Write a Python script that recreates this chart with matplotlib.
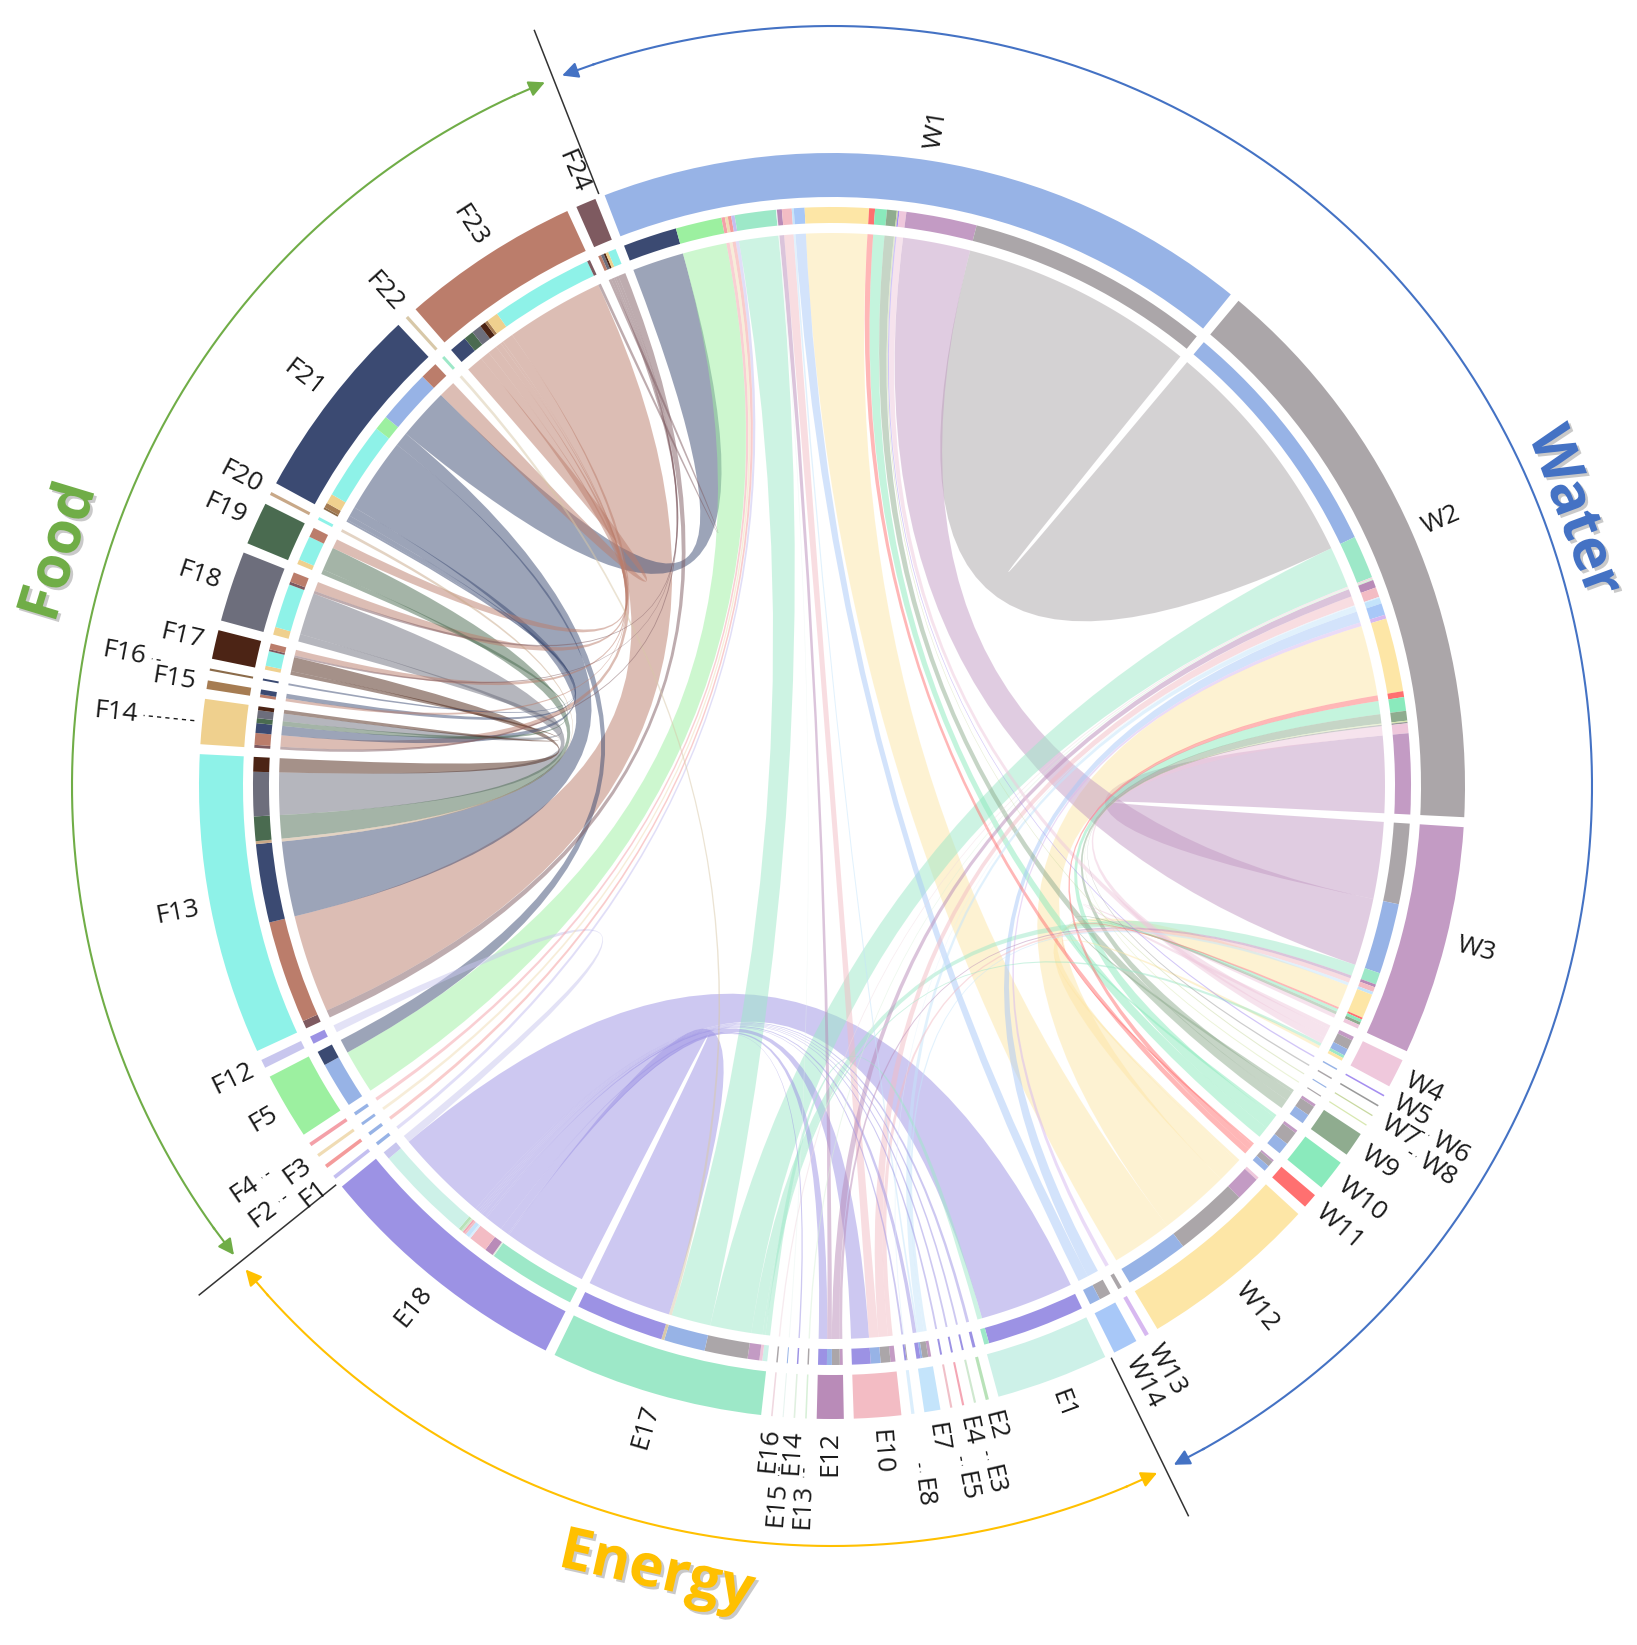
import numpy as np
import matplotlib

matplotlib.use("Agg")
import matplotlib.pyplot as plt
import matplotlib.patheffects as pe
from matplotlib.patches import PathPatch, Wedge
from matplotlib.path import Path

# sectors, clockwise from the top divider
W_NAMES = ["W1", "W2", "W3", "W4", "W5", "W6", "W7", "W8", "W9", "W10", "W11", "W12", "W13", "W14"]
W_COLORS = ["#97b3e6", "#aba6a9", "#c39bc4", "#efc8dc", "#a58ef0", "#9a9a9a", "#c8d8a0", "#d8e8b0",
            "#8fac8f", "#8aeabc", "#ff7070", "#fde6a6", "#d7b8f0", "#a8c8f8"]
E_NAMES = ["E1", "E2", "E3", "E4", "E5", "E7", "E8", "E10", "E12", "E13", "E14", "E15", "E16", "E17", "E18"]
E_COLORS = ["#cdf1e8", "#b8e2b8", "#cfe8cf", "#f4a6b4", "#f0c0c8", "#c4e4fb", "#dbeefc", "#f3bcc4",
            "#b98bb8", "#d8f0d8", "#e0f0e0", "#e8f4f0", "#f0d8e0", "#9de8c8", "#9c92e4"]
F_NAMES = ["F1", "F2", "F3", "F4", "F5", "F12", "F13", "F14", "F15", "F16", "F17", "F18", "F19",
           "F20", "F21", "F22", "F23", "F24"]
F_COLORS = ["#c4bff0", "#f49b9b", "#f0dcb4", "#f4a0a8", "#9cf0a0", "#c8c6ee", "#8ef2e8", "#efd08e",
            "#a67c52", "#8b6b4a", "#4c2415", "#6d6e7c", "#4a6b50", "#c8a888", "#3b4a72", "#d8c8a8",
            "#bb7d6b", "#7e5a60"]

# links: the ribbon takes the colour of LINK_TO
LINK_FROM = ["W1", "W1", "W2", "W1", "W2", "W3", "W1", "W2", "W1", "W2",
             "W1", "W2", "W3", "W1", "W2", "W3", "W1", "W2", "W3",
             "W1", "W2", "W3", "W4", "W2", "W1", "W2",
             "W1", "W2", "W3", "W2", "W1", "W2", "W3", "W1", "W2", "W3",
             "W2", "W1", "W2", "W1", "W2", "W3", "W4",
             "E1", "E1", "E2", "E3", "E4", "E5", "E7", "E8", "E10", "E12", "E14", "E17",
             "W1", "W1", "W1", "W1", "W1", "W1", "E18", "E17",
             "F5", "F13", "F13", "F13", "F13", "F13", "F13", "F13",
             "F14", "F14", "F14", "F14", "F14", "F14", "F15", "F15", "F16",
             "F17", "F17", "F18", "F18", "F19", "F21", "F23"]
LINK_TO = ["W2", "W3", "W3", "W4", "W4", "W4", "W5", "W6", "W7", "W8",
           "W9", "W9", "W9", "W10", "W10", "W10", "W11", "W11", "W11",
           "W12", "W12", "W12", "W12", "W13", "W14", "W14",
           "E7", "E7", "E7", "E8", "E10", "E10", "E10", "E12", "E12", "E12",
           "E13", "E15", "E16", "E17", "E17", "E17", "E17",
           "E17", "E18", "E18", "E18", "E18", "E18", "E18", "E18", "E18", "E18", "E18", "E18",
           "F1", "F2", "F3", "F4", "F5", "F21", "F12", "F22",
           "F21", "F17", "F18", "F19", "F20", "F21", "F23", "F24",
           "F17", "F18", "F19", "F21", "F23", "F24", "F21", "F23", "F21",
           "F23", "F24", "F23", "F24", "F23", "F23", "F24"]
LINK_VALUE = [25.0, 7.2, 8.2, 0.7, 1.0, 0.4, 0.15, 0.15, 0.12, 0.12,
              1.0, 1.0, 0.3, 1.2, 1.4, 0.3, 0.6, 0.6, 0.2,
              6.5, 7.5, 2.5, 0.3, 0.4, 1.1, 1.2,
              0.2, 0.6, 0.3, 0.1, 1.0, 1.0, 0.5, 0.5, 0.8, 0.3,
              0.15, 0.1, 0.15, 4.2, 4.4, 1.2, 0.3,
              0.5, 10.0, 0.3, 0.2, 0.2, 0.2, 0.4, 0.2, 1.9, 0.9, 0.15, 9.0,
              0.35, 0.35, 0.3, 0.35, 4.7, 5.5, 0.8, 0.3,
              1.5, 1.5, 4.5, 2.5, 0.3, 8.0, 10.5, 0.8,
              0.4, 0.8, 0.5, 1.0, 1.2, 0.3, 0.5, 0.3, 0.2,
              0.6, 0.2, 1.0, 0.3, 1.0, 1.8, 0.3]

GROUP_LABELS = ["Water", "Energy", "Food"]
GROUP_COLORS = ["#4472c4", "#ffc000", "#70ad47"]
GROUP_LABEL_SHIFT = [-3.5, 0.0, -2.0]  # degrees, nudges the titles along the arc
GROUP_LABEL_R = [790, 806, 806]

# labels pushed to a second ring, with a leader
TIER2 = {"E15", "E13", "E8", "E5", "E3", "F4", "F2", "F16", "F14", "W6", "W8"}
LONG_LEADER = {"F14"}

W_PX, H_PX = 1637, 1645
CX, CY = 832, 786
R_CHORD = 553
R_INNER = (563, 579)
R_OUTER = (589, 633)
R_LABEL = 645
R_LABEL2 = 698
R_ARC = 760
GAP = 0.9
TOP_DIVIDER = 111.5
TEXT = "#1a1a1a"


def pol(angle, r):
    t = np.radians(angle)
    return r * np.cos(t), r * np.sin(t)


def arc_points(a0, a1, r):
    n = max(2, int(abs(a1 - a0) * 3) + 2)
    t = np.radians(np.linspace(a0, a1, n))
    return np.column_stack([r * np.cos(t), r * np.sin(t)])


def ribbon(a_lo, a_hi, b_lo, b_hi, r):
    verts, codes = [], []
    pts = arc_points(a_lo, a_hi, r)
    verts += [tuple(p) for p in pts]
    codes += [Path.MOVETO] + [Path.LINETO] * (len(pts) - 1)
    verts += [(0, 0), pol(b_lo, r)]
    codes += [Path.CURVE3, Path.CURVE3]
    pts = arc_points(b_lo, b_hi, r)
    verts += [tuple(p) for p in pts[1:]]
    codes += [Path.LINETO] * (len(pts) - 1)
    verts += [(0, 0), pol(a_lo, r), (0, 0)]
    codes += [Path.CURVE3, Path.CURVE3, Path.CLOSEPOLY]
    return Path(verts, codes)


def main():
    order = W_NAMES + E_NAMES + F_NAMES
    colors = dict(zip(order, W_COLORS + E_COLORS + F_COLORS))
    index = {name: i for i, name in enumerate(order)}
    n_sec = len(order)

    size = {name: 0.0 for name in order}
    for a, b, v in zip(LINK_FROM, LINK_TO, LINK_VALUE):
        size[a] += v
        size[b] += v
    scale = (360 - GAP * n_sec) / sum(size.values())

    start, end = {}, {}
    cur = TOP_DIVIDER - GAP / 2
    for name in order:
        start[name] = cur
        end[name] = cur - size[name] * scale
        cur = end[name] - GAP

    # place link ends inside each sector (nearest counter-clockwise partner first)
    ends = {}
    for name in order:
        items = []
        for k, (a, b) in enumerate(zip(LINK_FROM, LINK_TO)):
            if a == name:
                items.append((k, b))
            elif b == name:
                items.append((k, a))
        items.sort(key=lambda it: (index[name] - index[it[1]]) % n_sec)
        pos = start[name]
        for k, partner in items:
            lo = pos - LINK_VALUE[k] * scale
            ends[(k, name)] = (lo, pos, partner)
            pos = lo

    fig = plt.figure(figsize=(W_PX / 100, H_PX / 100), dpi=100)
    ax = fig.add_axes([0, 0, 1, 1])
    ax.set_xlim(-CX, W_PX - CX)
    ax.set_ylim(-(H_PX - CY), CY)
    ax.set_axis_off()

    # ribbons
    for k in sorted(range(len(LINK_VALUE)), key=lambda i: -LINK_VALUE[i]):
        a, b = LINK_FROM[k], LINK_TO[k]
        a_lo, a_hi, _ = ends[(k, a)]
        b_lo, b_hi, _ = ends[(k, b)]
        ax.add_patch(PathPatch(ribbon(a_lo, a_hi, b_lo, b_hi, R_CHORD),
                               facecolor=colors[b], edgecolor="none", alpha=0.5, zorder=2))

    # inner ring: partner colours
    for (k, name), (lo, hi, partner) in ends.items():
        ax.add_patch(Wedge((0, 0), R_INNER[1], lo, hi, width=R_INNER[1] - R_INNER[0],
                           facecolor=colors[partner], edgecolor="none", zorder=3))

    # outer ring + labels
    for name in order:
        ax.add_patch(Wedge((0, 0), R_OUTER[1], end[name], start[name],
                           width=R_OUTER[1] - R_OUTER[0], facecolor=colors[name],
                           edgecolor="none", zorder=3))
        mid = (start[name] + end[name]) / 2
        r = R_LABEL2 if name in TIER2 else R_LABEL
        if name in TIER2:
            r0 = R_LABEL - 4 if name in LONG_LEADER else R_LABEL + 38
            x0, y0 = pol(mid, r0)
            x1, y1 = pol(mid, r - 6)
            ax.plot([x0, x1], [y0, y1], color=TEXT, lw=1.0, ls=(0, (3, 3)), zorder=4)
        x, y = pol(mid, r)
        right = np.cos(np.radians(mid)) >= 0
        ax.text(x, y, name, rotation=mid if right else mid - 180, rotation_mode="anchor",
                ha="left" if right else "right", va="center", fontsize=19,
                family="Open Sans", color=TEXT, zorder=5)

    # group dividers, arcs and titles (angles decrease clockwise)
    b0 = TOP_DIVIDER
    b1 = end[W_NAMES[-1]] - GAP / 2
    b2 = end[E_NAMES[-1]] - GAP / 2
    for ang in (b0, b1, b2):
        x0, y0 = pol(ang, R_OUTER[1] + 4)
        x1, y1 = pol(ang, 812)
        ax.plot([x0, x1], [y0, y1], color="#333333", lw=1.1, zorder=4)

    spans = [(b0, b1), (b1, b2), (b2, b0 - 360)]
    for (a0, a1), label, color, shift, r_lab in zip(spans, GROUP_LABELS, GROUP_COLORS,
                                                    GROUP_LABEL_SHIFT, GROUP_LABEL_R):
        a0 -= 0.7
        a1 += 0.7
        pts = arc_points(a0 - 2.5, a1 + 2.5, R_ARC)
        ax.plot(pts[:, 0], pts[:, 1], color=color, lw=1.5, zorder=4)
        for tip, back in ((a0, a0 - 2.6), (a1, a1 + 2.6)):
            ax.annotate("", xy=pol(tip, R_ARC), xytext=pol(back, R_ARC),
                        arrowprops=dict(arrowstyle="-|>", color=color, lw=1.5,
                                        mutation_scale=24, shrinkA=0, shrinkB=0), zorder=5)
        mid = (a0 + a1) / 2 + shift
        x, y = pol(mid, r_lab)
        rot = (mid - 90) % 360
        if 90 < rot < 270:
            rot -= 180
        ax.text(x, y, label, rotation=rot, ha="center", va="center", fontsize=42,
                fontweight="bold", family="Open Sans", color=color, zorder=5,
                path_effects=[pe.withSimplePatchShadow(offset=(2, -2), shadow_rgbFace="#888888",
                                                       alpha=0.45)])

    fig.savefig("out.png", dpi=100, facecolor="white")
    plt.close(fig)


if __name__ == "__main__":
    main()
